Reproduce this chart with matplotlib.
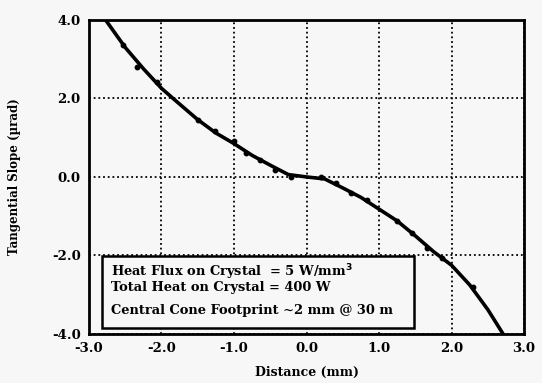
import matplotlib
matplotlib.use('Agg')
import matplotlib.pyplot as plt
from matplotlib.patches import Rectangle

# fitted curve
curve_x = [-2.77, -2.5, -2.25, -2.0, -1.84, -1.5, -1.25, -1.0, -0.75, -0.5, -0.25,
           0.0, 0.25, 0.5, 0.75, 1.0, 1.25, 1.5, 1.75, 2.0, 2.25, 2.5, 2.71]
curve_y = [4.0, 3.3, 2.76, 2.26, 2.0, 1.46, 1.12, 0.85, 0.55, 0.3, 0.06,
           0.0, -0.05, -0.28, -0.52, -0.82, -1.12, -1.5, -1.9, -2.25, -2.75, -3.38, -4.0]

# measured points
pts_x = [-2.53, -2.34, -2.06, -1.5, -1.26, -1.0, -0.84, -0.64, -0.43, -0.22,
         0.2, 0.41, 0.62, 0.83, 1.25, 1.46, 1.66, 1.87, 2.3]
pts_y = [3.35, 2.8, 2.42, 1.45, 1.17, 0.92, 0.62, 0.44, 0.18, 0.0,
         0.0, -0.15, -0.41, -0.59, -1.13, -1.44, -1.82, -2.07, -2.8]

xticks = [-3, -2, -1, 0, 1, 2, 3]
yticks = [-4, -2, 0, 2, 4]

box_lines = ['Heat Flux on Crystal  = 5 W/mm$^\\mathbf{3}$',
             'Total Heat on Crystal = 400 W']
footprint = 'Central Cone Footprint ~2 mm @ 30 m'

serif = ['DejaVu Serif']
bg = '#f7f7f7'

fig = plt.figure(figsize=(5.42, 3.83), dpi=100, facecolor=bg)
ax = fig.add_axes([0.164, 0.128, 0.803, 0.82], facecolor=bg)

ax.plot(curve_x, curve_y, color='black', lw=2.6, solid_capstyle='round', zorder=3)
ax.plot(pts_x, pts_y, 'o', color='black', ms=3.2, zorder=3)

ax.set_xlim(-3, 3)
ax.set_ylim(-4, 4)
ax.set_xticks(xticks)
ax.set_yticks(yticks)
ax.set_xticklabels(['%.1f' % v for v in xticks], fontfamily=serif, fontweight='bold', fontsize=9.5)
ax.set_yticklabels(['%.1f' % v for v in yticks], fontfamily=serif, fontweight='bold', fontsize=9.5)
ax.tick_params(length=0, pad=6)
ax.grid(True, color='black', linestyle=(0, (1, 1.6)), lw=1.3)
for s in ax.spines.values():
    s.set_linewidth(2)

ax.set_xlabel('Distance (mm)', fontfamily=serif, fontweight='bold', fontsize=9, labelpad=8)
ax.set_ylabel('Tangential Slope (\u00b5rad)', fontfamily=serif, fontweight='bold', fontsize=8.5, labelpad=22)

# text box
box = Rectangle((-2.82, -3.86), 4.3, 1.85, facecolor=bg, edgecolor='black', lw=1.8, zorder=4)
ax.add_patch(box)
tkw = dict(fontfamily=serif, fontweight='bold', fontsize=9.4, zorder=5)
ax.text(-2.7, -2.58, '\n'.join(box_lines), va='center', linespacing=0.95, **tkw)
ax.text(-2.7, -3.4, footprint, va='center', **tkw)

fig.savefig('out.png', dpi=100, facecolor=bg)
